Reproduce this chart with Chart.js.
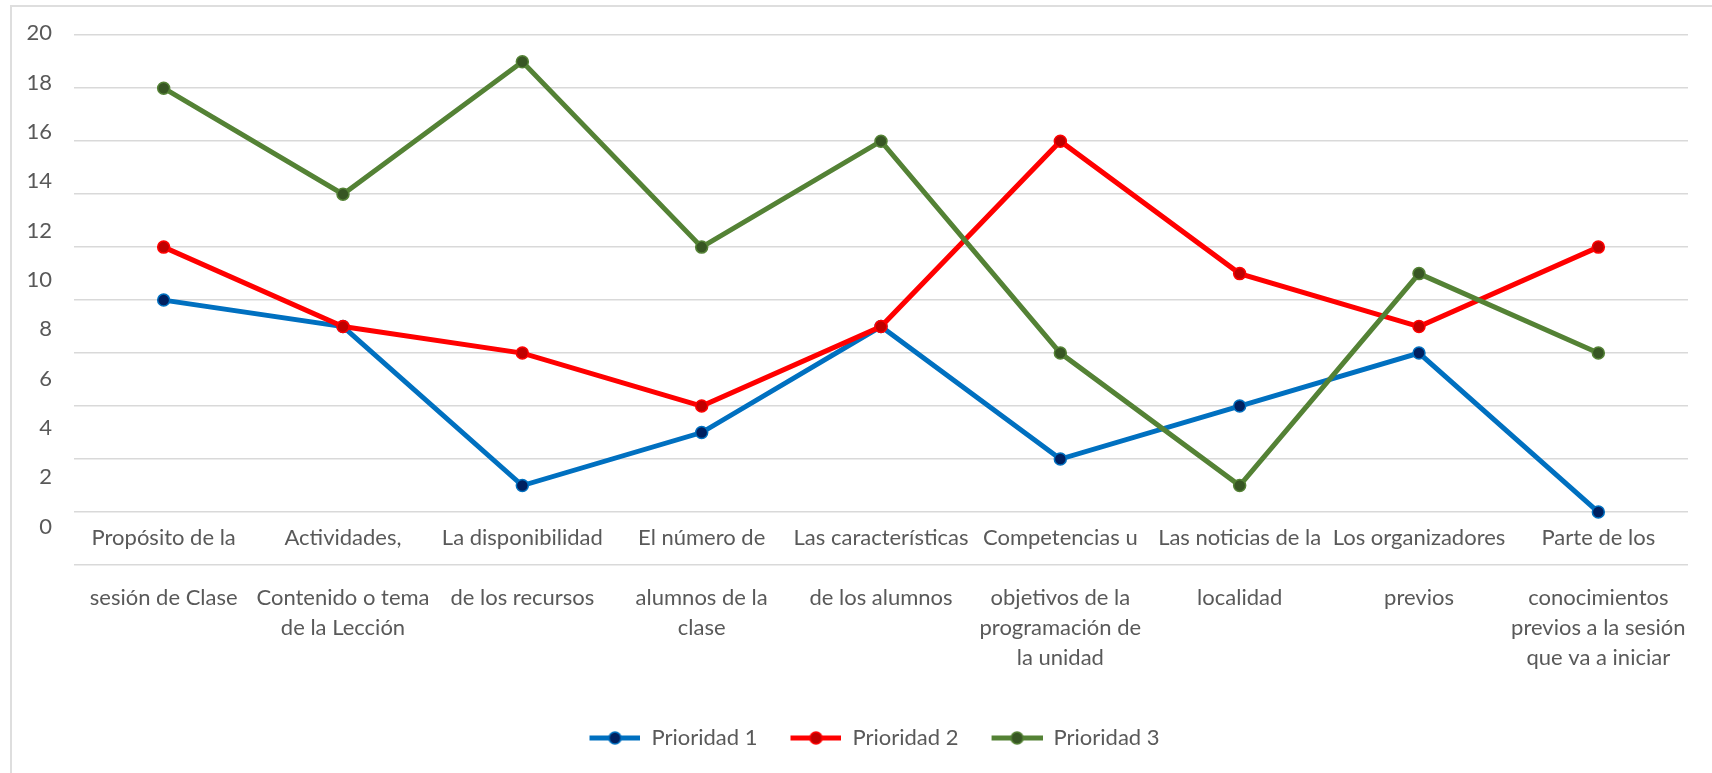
<!DOCTYPE html>
<html>
<head>
<meta charset="utf-8">
<script src="https://cdn.jsdelivr.net/npm/chart.js@4.4.1/dist/chart.umd.min.js"></script>
<style>
  body { margin: 0; overflow: hidden; background: #fff; }
  #wrap { position: relative; width: 1712px; height: 773px; overflow: hidden; }
  #frame { position: absolute; left: 10px; top: 5px; width: 1800px; height: 900px; border: 2px solid #dedede; box-sizing: border-box; }
  canvas { position: absolute; left: 0; top: 0; }
</style>
</head>
<body>
<div id="wrap">
  <div id="frame"></div>
  <canvas id="chart" width="1712" height="773"></canvas>
</div>
<script>
// DATA
let categories = [
  ["Propósito de la", "sesión de Clase"],
  ["Actividades,", "Contenido o tema", "de la Lección"],
  ["La disponibilidad", "de los recursos"],
  ["El número de", "alumnos de la", "clase"],
  ["Las características", "de los alumnos"],
  ["Competencias u", "objetivos de la", "programación de", "la unidad"],
  ["Las noticias de la", "localidad"],
  ["Los organizadores", "previos"],
  ["Parte de los", "conocimientos", "previos a la sesión", "que va a iniciar"]
];
let seriesNames = ["Prioridad 1", "Prioridad 2", "Prioridad 3"];
let prioridad1 = [10, 9, 3, 5, 9, 4, 6, 8, 2];
let prioridad2 = [12, 9, 8, 6, 9, 16, 11, 9, 12];
let prioridad3 = [18, 14, 19, 12, 16, 8, 3, 11, 8];
let yTicks = [20, 18, 16, 14, 12, 10, 8, 6, 4, 2, 0];

// colours
let lineColors = ["#0070C0", "#FF0000", "#548235"];
let markColors = ["#002060", "#C00000", "#375623"];
let textColor = "#595959";
let font = "Lato, 'Liberation Sans', sans-serif";

// first label line sits above the axis, then a blank line
let labels = categories.map(c => [c[0], ""].concat(c.slice(1)));

// legend icon: line with a dot
function legendIcon(line, fill) {
  let c = document.createElement("canvas");
  c.width = 74;
  c.height = 16;
  let g = c.getContext("2d");
  g.strokeStyle = line;
  g.lineWidth = 5;
  g.beginPath();
  g.moveTo(23, 8);
  g.lineTo(74, 8);
  g.stroke();
  g.beginPath();
  g.arc(48.5, 8, 6, 0, Math.PI * 2);
  g.fillStyle = fill;
  g.fill();
  g.lineWidth = 1.5;
  g.stroke();
  return c;
}
let icons = lineColors.map((c, i) => legendIcon(c, markColors[i]));

function makeSet(i, values) {
  return {
    label: seriesNames[i],
    data: values,
    borderColor: lineColors[i],
    backgroundColor: markColors[i],
    borderWidth: 5,
    pointRadius: 6,
    pointBorderWidth: 1.5,
    pointBorderColor: lineColors[i],
    pointBackgroundColor: markColors[i],
    tension: 0,
    order: 3 - i
  };
}

// nudge the legend a bit to the right
let legendShift = {
  id: "legendShift",
  afterLayout(ch) {
    ch.legend.left += 14;
    ch.legend.right += 14;
  }
};

// CHART
let chart = new Chart(document.getElementById("chart"), {
  type: "line",
  data: {
    labels: labels,
    datasets: [makeSet(0, prioridad1), makeSet(1, prioridad2), makeSet(2, prioridad3)]
  },
  plugins: [legendShift],
  options: {
    responsive: false,
    animation: false,
    devicePixelRatio: 1,
    layout: { padding: { left: 10, top: 34, right: 24, bottom: 14 } },
    plugins: {
      tooltip: { enabled: false },
      legend: {
        position: "bottom",
        labels: {
          usePointStyle: true,
          pointStyleWidth: 74,
          padding: 10,
          color: textColor,
          font: { family: font, size: 22 },
          generateLabels: ch => ch.data.datasets.map((d, i) => ({
            text: d.label,
            pointStyle: icons[i],
            fillStyle: markColors[i],
            strokeStyle: lineColors[i],
            lineWidth: 0,
            hidden: false,
            datasetIndex: i,
            fontColor: textColor
          }))
        }
      }
    },
    scales: {
      x: {
        offset: true,
        grid: { display: false, drawTicks: false },
        border: { display: false },
        ticks: {
          autoSkip: false,
          maxRotation: 0,
          padding: -42,
          color: textColor,
          font: { family: font, size: 22, lineHeight: 1.36 }
        },
        afterFit: s => {
          s.height = 152;
          // let the first label line go above the axis (no clipping)
          s._computeLabelArea = () => undefined;
        }
      },
      y: {
        min: 0,
        max: 20,
        ticks: { display: false, stepSize: 2 },
        grid: { color: "#d9d9d9", lineWidth: 1.5, drawTicks: false },
        border: { display: false },
        afterFit: s => { s.width = 0; }
      },
      yl: {
        position: "left",
        min: -1.56,
        max: 19.92,
        grid: { display: false, drawTicks: false },
        border: { display: false },
        ticks: {
          padding: 22,
          color: textColor,
          font: { family: font, size: 22 }
        },
        afterBuildTicks: s => { s.ticks = yTicks.map(v => ({ value: v })); },
        afterFit: s => { s.width = 64; }
      }
    }
  }
});
</script>
</body>
</html>
